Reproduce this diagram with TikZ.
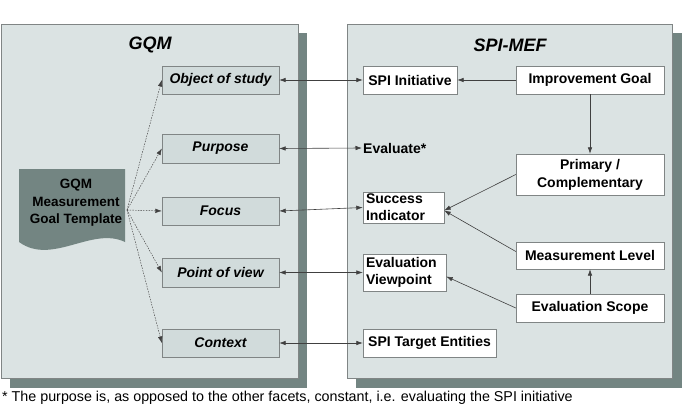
\documentclass[tikz,border=0pt]{standalone}
\usepackage{fontspec}
\setmainfont{Liberation Sans}
\usetikzlibrary{arrows.meta,calc}
\definecolor{PanelClr}{rgb}{0.86,0.89,0.89}
\definecolor{ShadowClr}{rgb}{0.45,0.52,0.51}
\definecolor{FacetClr}{rgb}{0.82,0.86,0.86}
\definecolor{EdgeClr}{rgb}{0.5,0.52,0.52}
\definecolor{LineClr}{rgb}{0.25,0.25,0.25}

\begin{document}
\begin{tikzpicture}[x=1pt,y=-1pt,>={Latex[length=6.5pt,width=4.5pt]},
  facet/.style={draw=EdgeClr,fill=FacetClr,minimum width=117pt,minimum height=28pt,inner sep=0pt,font=\fontsize{14}{17}\selectfont\bfseries\itshape},
  mefbox/.style={draw=EdgeClr,fill=white,inner sep=0pt,minimum height=28pt,font=\fontsize{14}{17}\selectfont\bfseries},
  link/.style={<->,LineClr,line width=0.6pt},
  relation/.style={->,LineClr,line width=0.6pt},
  refine/.style={->,LineClr,line width=0.45pt,dash pattern=on 1.5pt off 1.2pt}]
\useasboundingbox (0,0) rectangle (689,412);

\fill[ShadowClr] (10,33) rectangle (307,388);
\fill[ShadowClr] (356,33) rectangle (682,388);
\draw[EdgeClr,fill=PanelClr] (1,24) rectangle (298,378);
\draw[EdgeClr,fill=PanelClr] (347,24) rectangle (672,378);

\node[font=\fontsize{18}{20}\selectfont\bfseries\itshape] (gqmtitle) at (150,45) {GQM};
\node[font=\fontsize{18}{20}\selectfont\bfseries\itshape] (meftitle) at (510,45) {SPI-MEF};

\fill[ShadowClr] (19,169) -- (125,169) -- (125,242) .. controls (92,226) and (52,266) .. (19,242) -- cycle;
\node[align=center,inner sep=0pt,font=\fontsize{13.5}{17.5}\selectfont\bfseries] (template) at (76,203) {GQM\\Measurement\\Goal Template};
\coordinate (fan) at (127,210);

\node[facet] (object) at (220.5,80) {Object of study};
\node[facet,minimum height=29pt] (purpose) at (220.5,148.5) {Purpose};
\node[facet] (focus) at (220.5,211) {Focus};
\node[facet,minimum height=29pt] (viewpoint) at (220.5,272.5) {Point of view};
\node[facet] (context) at (220.5,343) {Context};

\draw[refine] (fan) -- (object.west);
\draw[refine] (fan) -- (purpose.west);
\draw[refine] (fan) -- (focus.west);
\draw[refine] (fan) -- (viewpoint.west);
\draw[refine] (fan) -- (context.west);

\node[mefbox,minimum width=94pt] (initiative) at (410,80) {SPI Initiative};
\node[mefbox,minimum width=148pt] (goal) at (590,80) {Improvement Goal};
\node[anchor=west,inner sep=1pt,font=\fontsize{14}{17}\selectfont\bfseries] (evaluate) at (362,148) {Evaluate*};
\node[mefbox,minimum width=148pt,minimum height=41pt,align=center,font=\fontsize{14}{18}\selectfont\bfseries] (primary) at (590,174.5) {Primary /\\Complementary};
\node[mefbox,minimum width=81pt,minimum height=31pt,text width=75pt,align=left] (success) at (403.5,207.5) {Success\\Indicator};
\node[mefbox,minimum width=148pt,minimum height=27pt] (level) at (590,255.5) {Measurement Level};
\node[mefbox,minimum width=83pt,minimum height=37pt,text width=77pt,align=left] (evalview) at (404.5,272.5) {Evaluation\\Viewpoint};
\node[mefbox,minimum width=148pt] (scope) at (590,308) {Evaluation Scope};
\node[mefbox,minimum width=133pt] (entities) at (429.5,343) {SPI Target Entities};

\draw[link] (object.east) -- (initiative.west);
\draw[link] (purpose.east) -- (evaluate.west);
\draw[link] (focus.east) -- (success.west);
\draw[link] (viewpoint.east) -- (evalview.west);
\draw[link] (context.east) -- (entities.west);

\draw[relation] (goal) -- (initiative);
\draw[relation] (goal) -- (primary);
\draw[relation] (primary.west) -- ($(success.east)+(0,3)$);
\draw[relation] ($(level.west)+(0,-4)$) -- ($(success.east)+(0,3)$);
\draw[relation] (scope) -- (level);
\draw[relation] (scope.west) -- ($(evalview.east)+(0,4)$);

\node[anchor=west,inner sep=0pt,font=\fontsize{14.3}{16}\selectfont] (note) at (2,398) {* The purpose is, as opposed to the other facets, constant, i.e. evaluating the SPI initiative};

\end{tikzpicture}
\end{document}
